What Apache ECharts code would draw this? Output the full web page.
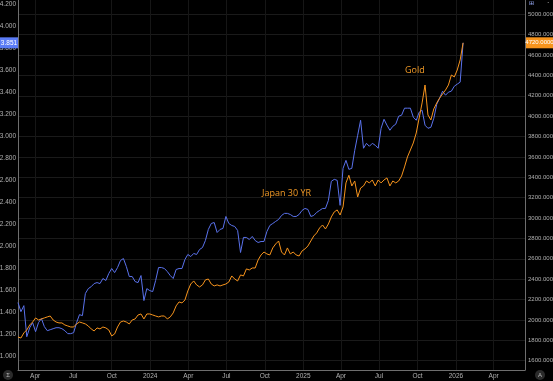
<!DOCTYPE html>
<html><head><meta charset="utf-8">
<script src="https://cdn.jsdelivr.net/npm/echarts@6/dist/echarts.min.js"></script>
<style>html,body{margin:0;padding:0;background:#000;overflow:hidden}#c{width:553px;height:381px;}</style>
</head><body><div id="c"></div>
<script>
// Weekly observations starting at this date
const startDate = '2023-02-19';
// Japan 30 YR yield (%), left axis
const jgb30 = [1.486,1.403,1.458,1.175,1.257,1.303,1.221,1.303,1.340,1.267,
1.230,1.239,1.248,1.257,1.257,1.248,1.230,1.203,1.203,1.212,
1.303,1.376,1.367,1.568,1.613,1.631,1.659,1.668,1.659,1.705,
1.687,1.750,1.796,1.759,1.805,1.869,1.887,1.814,1.723,1.723,
1.677,1.668,1.732,1.504,1.613,1.595,1.586,1.687,1.805,1.805,
1.796,1.768,1.732,1.705,1.787,1.796,1.796,1.878,1.924,1.905,
1.933,1.924,1.969,1.987,2.051,2.152,2.206,2.215,2.124,2.152,
2.161,2.270,2.206,2.188,2.179,2.143,1.942,2.079,2.079,2.060,
2.088,2.051,2.033,2.042,2.042,2.133,2.188,2.206,2.225,2.243,
2.279,2.298,2.298,2.288,2.270,2.270,2.288,2.325,2.343,2.334,
2.270,2.279,2.307,2.325,2.343,2.343,2.416,2.590,2.608,2.599,
2.371,2.708,2.781,2.699,2.708,2.872,3.009,3.146,2.891,2.936,
2.909,2.936,2.918,2.891,3.073,3.155,3.101,3.055,3.091,3.110,
3.183,3.192,3.256,3.256,3.256,3.174,3.146,3.219,3.237,3.101,
3.073,3.082,3.164,3.292,3.347,3.411,3.374,3.402,3.411,3.456,
3.475,3.493,3.851];
// Gold price, right axis
const gold = [1833,1823,1873,1902,1951,1980,2020,2000,2010,2020,
2030,2039,2000,1980,1971,1971,1951,1941,1931,1931,
1961,1980,1971,1961,1941,1912,1892,1922,1912,1931,
1922,1902,1843,1863,1931,1980,1990,1980,1961,2000,
2010,2049,2059,2010,2059,2059,2049,2039,2030,2039,
2039,2010,2030,2069,2138,2177,2167,2196,2285,2353,
2383,2344,2324,2344,2393,2402,2353,2334,2344,2334,
2344,2353,2373,2432,2402,2383,2442,2432,2501,2491,
2510,2510,2589,2638,2667,2648,2638,2707,2746,2775,
2667,2638,2707,2648,2667,2638,2628,2677,2697,2726,
2775,2824,2854,2903,2932,2893,2942,3011,3060,3080,
3030,3109,3345,3420,3315,3364,3207,3295,3315,3364,
3345,3374,3315,3374,3345,3374,3394,3315,3364,3345,
3364,3413,3502,3600,3668,3737,3835,3982,4130,4306,
4012,3963,4071,4130,4179,4218,4257,4306,4404,4385,
4453,4552,4720];
const xTickDates = ['2023-04-01','2023-07-01','2023-10-01','2024-01-01','2024-04-01','2024-07-01','2024-10-01','2025-01-01','2025-04-01','2025-07-01','2025-10-01','2026-01-01','2026-04-01'];
const xTickLabels = ['Apr','Jul','Oct','2024','Apr','Jul','Oct','2025','Apr','Jul','Oct','2026','Apr'];
const leftTicks = [1.0,1.2,1.4,1.6,1.8,2.0,2.2,2.4,2.6,2.8,3.0,3.2,3.4,3.6,3.8,4.0,4.2];
const rightTicks = [1600,1800,2000,2200,2400,2600,2800,3000,3200,3400,3600,3800,4000,4200,4400,4600,4800,5000];
const seriesNames = ['Japan 30 YR','Gold'];

const DAY = 86400000;
const t0 = Date.parse(startDate);
const blueData = jgb30.map((v,i)=>[t0+i*7*DAY, v]);
const goldData = gold.map((v,i)=>[t0+i*7*DAY, v]);
const xTickVals = xTickDates.map(d=>Date.parse(d));
const xLabelMap = {}; xTickVals.forEach((v,i)=>xLabelMap[v]=xTickLabels[i]);

const BLUE='#5a72ec', ORANGE='#f7941d', TXT='#b0b0b0';
const FONT='"Liberation Sans Narrow", "Liberation Sans", sans-serif';
const LFONT='"Open Sans", "Liberation Sans", sans-serif';
const chart = echarts.init(document.getElementById('c'), null, {renderer:'canvas'});
chart.setOption({
  backgroundColor:'#000',
  animation:false,
  grid:{left:18,right:28,top:0,bottom:11,containLabel:false,outerBoundsMode:'none'},
  xAxis:{type:'value',min:Date.parse('2023-02-19'),max:Date.parse('2026-06-15'),
    axisLine:{show:true,onZero:false,lineStyle:{color:'#6e6e6e',width:1}},
    axisTick:{show:false,customValues:xTickVals},
    axisLabel:{customValues:xTickVals,formatter:v=>xLabelMap[v]||'',color:TXT,fontSize:6.5,fontFamily:FONT,margin:3,hideOverlap:false},
    splitLine:{show:true,lineStyle:{color:'#161616',width:1}}},
  yAxis:[
    {type:'value',position:'left',min:0.872,max:4.241,
     axisLine:{show:true,onZero:false,lineStyle:{color:'#6e6e6e'}},
     axisTick:{show:false,customValues:leftTicks},
     axisLabel:{customValues:leftTicks,formatter:v=>v.toFixed(3),color:TXT,fontSize:6.5,fontFamily:FONT,margin:2},
     splitLine:{show:false}},
    {type:'value',position:'right',min:1509,max:5140,
     axisLine:{show:true,onZero:false,lineStyle:{color:'#6e6e6e'}},
     axisTick:{show:false,customValues:rightTicks},
     axisLabel:{customValues:rightTicks,formatter:v=>v.toFixed(4),color:TXT,fontSize:6,fontFamily:FONT,margin:3},
     splitLine:{show:true,lineStyle:{color:'#1a1a1a',width:1}}}
  ],
  series:[
    {name:seriesNames[0],type:'line',yAxisIndex:0,data:blueData,showSymbol:false,lineStyle:{color:BLUE,width:1},itemStyle:{color:BLUE}},
    {name:seriesNames[1],type:'line',yAxisIndex:1,data:goldData,showSymbol:false,lineStyle:{color:ORANGE,width:1},itemStyle:{color:ORANGE}}
  ]
});

const last = jgb30.length-1;
const bY = chart.convertToPixel({yAxisIndex:0}, jgb30[last]);
const gY = chart.convertToPixel({yAxisIndex:1}, gold[last]);
chart.setOption({graphic:[
  {type:'rect',shape:{x:0,y:bY-5.5,width:18,height:11},style:{fill:'#5b7cf6'},z:100},
  {type:'text',x:9,y:bY,style:{text:jgb30[last].toFixed(3),fill:'#fff',font:'6.5px '+FONT,align:'center',verticalAlign:'middle'},z:101},
  {type:'rect',shape:{x:526,y:gY-5.5,width:27,height:11},style:{fill:ORANGE},z:100},
  {type:'text',x:539.5,y:gY,style:{text:gold[last].toFixed(4),fill:'#fff',font:'6px '+FONT,align:'center',verticalAlign:'middle'},z:101},
  {type:'text',x:405,y:70,style:{text:seriesNames[1],fill:'#f29a26',font:'9px '+LFONT,verticalAlign:'middle'},z:50},
  {type:'text',x:262,y:193,style:{text:seriesNames[0],fill:'#f29a26',font:'9px '+LFONT,verticalAlign:'middle'},z:50},
  {type:'circle',shape:{cx:8,cy:375,r:5},style:{fill:'#2b2b2b'},z:100},
  {type:'text',x:8,y:375,style:{text:'Σ',fill:'#bbb',font:'6px '+FONT,align:'center',verticalAlign:'middle'},z:101},
  {type:'circle',shape:{cx:540,cy:375,r:5},style:{fill:'#2b2b2b'},z:100},
  {type:'text',x:540,y:375,style:{text:'A',fill:'#bbb',font:'6px '+FONT,align:'center',verticalAlign:'middle'},z:101},
  {type:'text',x:529,y:3,style:{text:'⊞',fill:'#9db0ff',font:'6px '+FONT,align:'left',verticalAlign:'middle'},z:101},
  {type:'text',x:547,y:3,style:{text:'·',fill:'#bbb',font:'7px '+FONT,align:'left',verticalAlign:'middle'},z:101}
]});
</script></body></html>
